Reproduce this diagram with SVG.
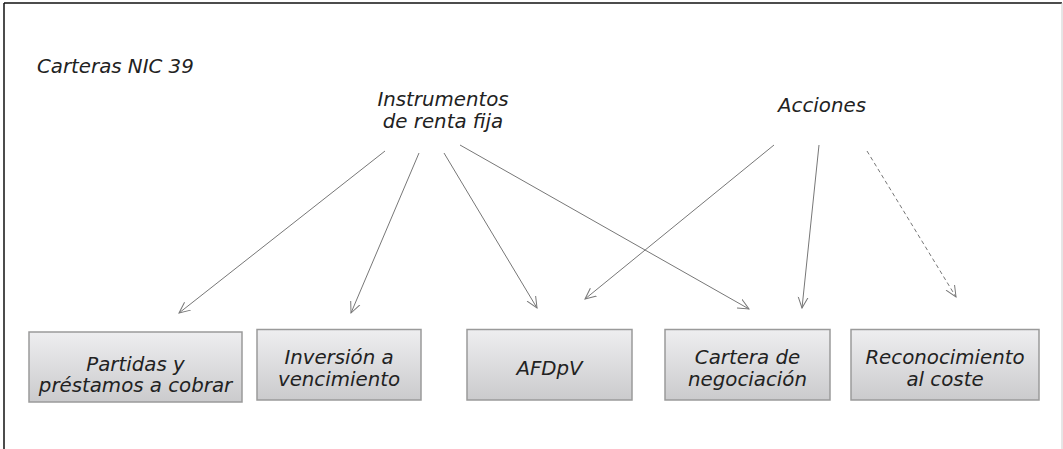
<svg xmlns="http://www.w3.org/2000/svg" width="1063" height="449" viewBox="0 0 1063 449">
<style>
text{font-family:"DejaVu Sans","Verdana",sans-serif;font-style:italic;font-size:19.8px;fill:#222}
.c{text-anchor:middle}
.box{fill:url(#g);stroke:#9a9a9a;stroke-width:1.5}
.ln{fill:none;stroke:#777;stroke-width:1}
.dash{stroke-dasharray:4 3}
</style>
<defs>
<linearGradient id="g" x1="0" y1="0" x2="0" y2="1">
<stop offset="0" stop-color="#eeeef0"/>
<stop offset="1" stop-color="#cbcbcd"/>
</linearGradient>
<marker id="ah" viewBox="0 0 12 12" refX="11" refY="6" markerWidth="12" markerHeight="12" markerUnits="userSpaceOnUse" orient="auto">
<path d="M0,1 L11,6 L0,11" fill="none" stroke="#777" stroke-width="1"/>
</marker>
</defs>
<g id="frame">
<line x1="4" y1="3" x2="1062" y2="3" stroke="#111" stroke-width="1.5"/>
<line x1="4" y1="3" x2="4" y2="449" stroke="#111" stroke-width="1.5"/>
<line x1="1062" y1="3" x2="1062" y2="449" stroke="#ccc" stroke-width="1"/>
</g>
<g id="title"><text x="37" y="73">Carteras NIC 39</text></g>
<g id="instrumentos"><text class="c" x="443" y="106">Instrumentos</text><text class="c" x="443" y="128">de renta fija</text></g>
<g id="acciones"><text class="c" x="822" y="112">Acciones</text></g>
<g id="connectors">
<line class="ln" x1="385" y1="151" x2="179" y2="313" marker-end="url(#ah)"/>
<line class="ln" x1="419" y1="153" x2="351" y2="313" marker-end="url(#ah)"/>
<line class="ln" x1="444" y1="153" x2="537" y2="308" marker-end="url(#ah)"/>
<line class="ln" x1="460" y1="145" x2="749" y2="309" marker-end="url(#ah)"/>
<line class="ln" x1="774" y1="145" x2="585" y2="299" marker-end="url(#ah)"/>
<line class="ln" x1="819" y1="145" x2="802" y2="308" marker-end="url(#ah)"/>
<line class="ln dash" x1="867" y1="151" x2="956" y2="297" marker-end="url(#ah)"/>
</g>
<g id="partidas"><rect class="box" x="29" y="332" width="213" height="70"/><text class="c" x="135.5" y="371">Partidas y</text><text class="c" x="135.5" y="392">préstamos a cobrar</text></g>
<g id="inversion"><rect class="box" x="257" y="329.5" width="164" height="70.5"/><text class="c" x="339" y="364">Inversión a</text><text class="c" x="339" y="386">vencimiento</text></g>
<g id="afdpv"><rect class="box" x="467" y="329.5" width="165" height="70.5"/><text class="c" x="549.5" y="375">AFDpV</text></g>
<g id="negociacion"><rect class="box" x="665" y="329.5" width="165" height="70.5"/><text class="c" x="747.5" y="364">Cartera de</text><text class="c" x="747.5" y="386">negociación</text></g>
<g id="coste"><rect class="box" x="851" y="329.5" width="188" height="70.5"/><text class="c" x="945" y="364">Reconocimiento</text><text class="c" x="945" y="386">al coste</text></g>
</svg>
